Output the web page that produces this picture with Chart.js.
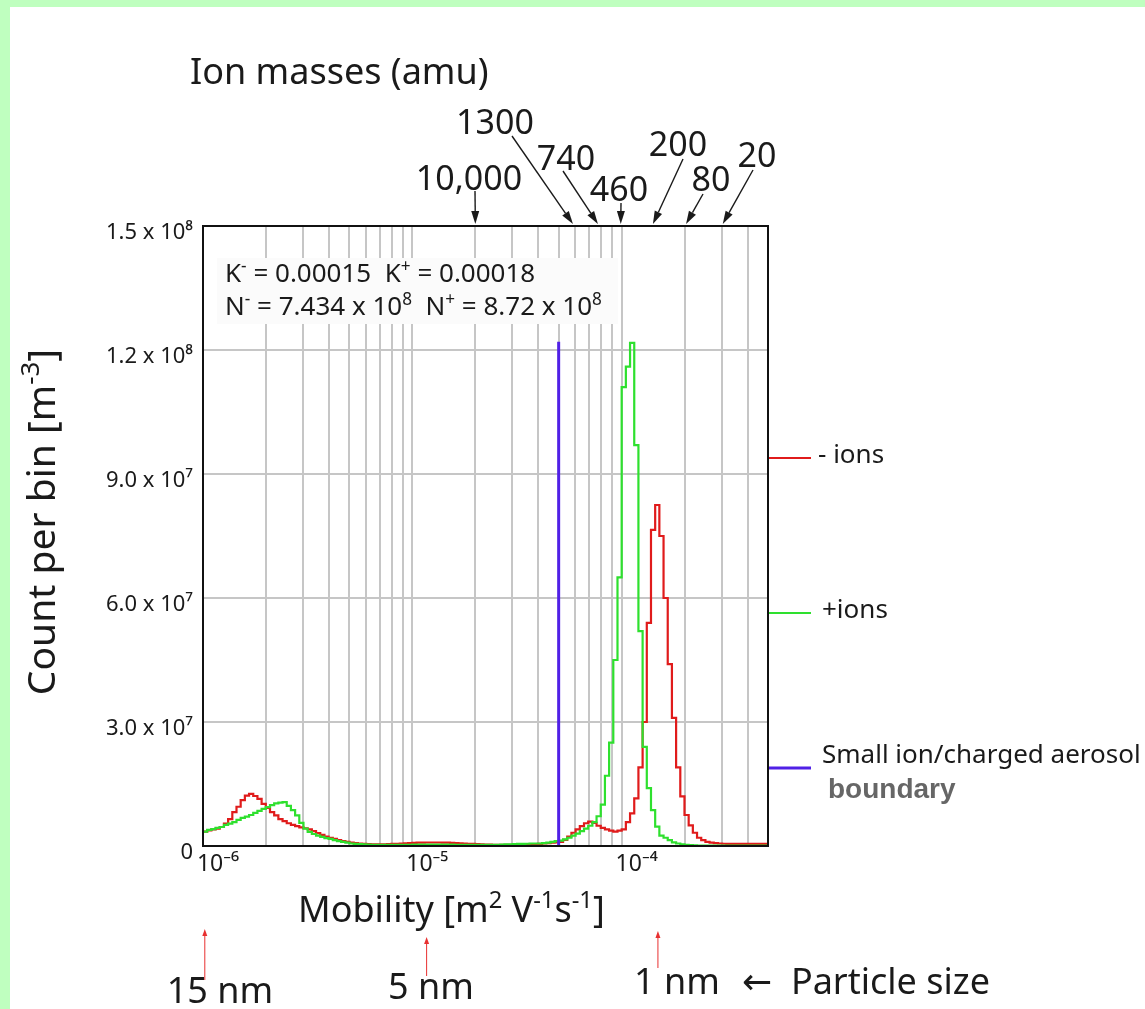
<!DOCTYPE html>
<html lang="en">
<head>
<meta charset="UTF-8">
<title>Ion mobility spectrum</title>
<style>
  html, body { margin: 0; padding: 0; background: #bfffbf; overflow: hidden; }
  #paper { position: absolute; left: 10px; top: 7px; right: 0; bottom: 0; background: #fff; }
  #chart { position: absolute; left: 0; top: 0; }
</style>
</head>
<body>
<div id="paper"></div>
<canvas id="chart" width="1145" height="1009"></canvas>

<script src="https://cdn.jsdelivr.net/npm/chart.js"></script>
<script>
// histogram bins, equal width in log10(mobility)
const BIN_LOG_START = -6.0;
const BIN_LOG_WIDTH = 0.02;

// counts per bin, in millions
const negIonsM = [
  3.5, 3.75, 4.0, 4.2, 4.6, 5.4, 6.5, 8.2, 9.5, 11.1,
  12.2, 12.6, 12.1, 11.4, 10.2, 9.2, 8.2, 7.4, 6.5, 6.0,
  5.5, 5.1, 4.8, 4.5, 4.3, 4.0, 3.6, 3.1, 2.7, 2.3,
  2.0, 1.7, 1.4, 1.2, 1.0, 0.85, 0.7, 0.6, 0.5, 0.45,
  0.4, 0.4, 0.4, 0.4, 0.45, 0.5, 0.55, 0.6, 0.65, 0.7,
  0.75, 0.8, 0.8, 0.85, 0.85, 0.85, 0.85, 0.8, 0.8, 0.75,
  0.7, 0.65, 0.6, 0.55, 0.5, 0.45, 0.4, 0.35, 0.35, 0.3,
  0.3, 0.3, 0.3, 0.3, 0.3, 0.35, 0.35, 0.4, 0.4, 0.45,
  0.5, 0.6, 0.7, 0.8, 0.9, 1.0, 1.5, 2.3, 3.2, 4.0,
  4.8, 5.5, 5.9, 5.6, 4.9, 4.4, 4.0, 3.7, 3.5, 3.7,
  4.0, 5.8, 7.9, 11.5, 19.0, 30.0, 54.0, 76.5, 82.5, 75.0,
  60.0, 44.0, 31.0, 19.0, 12.0, 7.5, 5.0, 3.2, 2.0, 1.4,
  1.0, 0.8, 0.7, 0.6, 0.55, 0.5, 0.5, 0.5, 0.5, 0.5,
  0.5, 0.5, 0.5, 0.5, 0.5
];
const posIonsM = [
  3.5, 3.9, 4.1, 4.4, 4.6, 5.1, 5.4, 5.8, 6.3, 6.8,
  7.1, 7.5, 8.0, 8.5, 9.0, 9.4, 9.9, 10.3, 10.5, 10.6,
  9.7, 8.7, 7.4, 5.6, 4.2, 3.4, 2.9, 2.5, 2.2, 1.9,
  1.7, 1.4, 1.2, 1.0, 0.8, 0.6, 0.5, 0.45, 0.4, 0.35,
  0.3, 0.3, 0.3, 0.3, 0.3, 0.3, 0.3, 0.3, 0.3, 0.3,
  0.35, 0.35, 0.35, 0.35, 0.35, 0.35, 0.35, 0.35, 0.35, 0.35,
  0.3, 0.3, 0.3, 0.3, 0.3, 0.3, 0.3, 0.3, 0.3, 0.3,
  0.3, 0.35, 0.4, 0.4, 0.45, 0.5, 0.5, 0.55, 0.6, 0.6,
  0.6, 0.7, 0.8, 1.0, 1.2, 1.3, 1.6, 2.0, 2.5, 3.0,
  3.6, 4.2, 4.9, 5.8, 7.2, 10.0, 17.0, 25.0, 45.0, 65.0,
  111.0, 116.0, 121.7, 97.0, 52.0, 24.0, 14.0, 8.7, 4.7, 2.5,
  2.0, 1.4, 0.9, 0.6, 0.4, 0.3, 0.2, 0.15, 0.1, 0.1,
  0.1, 0.1, 0.1, 0.1, 0.1, 0.1, 0.1, 0.1, 0.1, 0.1,
  0.1, 0.1, 0.1, 0.1, 0.1
];

const boundaryMobility = 5e-5;
const boundaryHeight = 1.22e8;

const yTickValues = [0, 3e7, 6e7, 9e7, 1.2e8, 1.5e8];
const yTickLabels = ['0', '3.0 x 10⁷', '6.0 x 10⁷', '9.0 x 10⁷', '1.2 x 10⁸', '1.5 x 10⁸'];
const xMajorTicks = [1e-6, 1e-5, 1e-4];
const xMajorLabels = ['10⁻⁶', '10⁻⁵', '10⁻⁴'];

const massLabels = ['10,000', '1300', '740', '460', '200', '80', '20'];
const massMobility = [2.0e-5, 5.85e-5, 7.7e-5, 9.9e-5, 1.41e-4, 2.03e-4, 3.04e-4];
const sizeLabels = ['15 nm', '5 nm', '1 nm'];
const sizeMobility = [1.02e-6, 1.17e-5, 1.49e-4];
// ^{..} marks a superscript
const statsLines = ['K^{-} = 0.00015  K^{+} = 0.00018', 'N^{-} = 7.434 x 10^{8}  N^{+} = 8.72 x 10^{8}'];
const xTitle = 'Mobility [m^{2} V^{-1}s^{-1}]';
const yTitle = 'Count per bin [m^{-3}]';

const FONT = '"Noto Sans", "DejaVu Sans", sans-serif';
const RED = '#e01b1b';
const GREEN = '#2ee02e';
const BLUE = '#5020e6';

function toSteps(valuesM) {
    const pts = valuesM.map((v, i) => ({ x: Math.pow(10, BIN_LOG_START + i * BIN_LOG_WIDTH), y: v * 1e6 }));
    // closing edge of last bin
    pts.push({ x: Math.pow(10, BIN_LOG_START + valuesM.length * BIN_LOG_WIDTH), y: valuesM[valuesM.length - 1] * 1e6 });
    return pts;
}

// grid at 1..9 x 10^n inside the axis range
const xGridValues = [];
[-6, -5, -4].forEach(e => {
    for (let k = 1; k <= 9; k++) {
        const v = k * Math.pow(10, e);
        if (v < 5e-4) xGridValues.push(v);
    }
});

function arrow(ctx, x1, y1, x2, y2, head, half, color, width) {
    const ang = Math.atan2(y2 - y1, x2 - x1);
    const bx = x2 - head * Math.cos(ang), by = y2 - head * Math.sin(ang);
    ctx.strokeStyle = color;
    ctx.fillStyle = color;
    ctx.lineWidth = width;
    ctx.beginPath();
    ctx.moveTo(x1, y1);
    ctx.lineTo(bx, by);
    ctx.stroke();
    ctx.beginPath();
    ctx.moveTo(x2, y2);
    ctx.lineTo(bx + half * Math.sin(ang), by - half * Math.cos(ang));
    ctx.lineTo(bx - half * Math.sin(ang), by + half * Math.cos(ang));
    ctx.closePath();
    ctx.fill();
}

// text with ^{..} superscripts, drawn on the alphabetic baseline
function richText(ctx, text, x, y, size, align) {
    const parts = text.split(/(\^\{[^}]*\})/).filter(p => p.length).map(p =>
        p.startsWith('^{') ? { t: p.slice(2, -1), sup: true } : { t: p, sup: false });
    let total = 0;
    parts.forEach(p => {
        ctx.font = (p.sup ? size * 0.66 : size) + 'px ' + FONT;
        p.w = ctx.measureText(p.t).width;
        total += p.w;
    });
    let cx = align === 'center' ? x - total / 2 : x;
    ctx.textAlign = 'left';
    ctx.textBaseline = 'alphabetic';
    parts.forEach(p => {
        ctx.font = (p.sup ? size * 0.66 : size) + 'px ' + FONT;
        ctx.fillText(p.t, cx, p.sup ? y - size * 0.4 : y);
        cx += p.w;
    });
}

// label placement for the mass arrows: label centre x, baseline y, arrow tail
const massLayout = [
    [469, 190, 475, 191], [495, 134, 512, 136], [566, 170, 563, 171], [619, 201, 621, 203],
    [678, 156, 683, 159], [711, 191, 703, 194], [757, 167, 753, 170]
];
// particle size marks: arrow top, arrow bottom, label centre x, label baseline
const sizeLayout = [[929, 980, 220, 1003], [937, 976, 431, 999], [931, 968, 677, 994]];

const annotations = {
    id: 'annotations',
    beforeDatasetsDraw(chart) {
        const ctx = chart.ctx;
        ctx.save();
        ctx.fillStyle = '#fbfbfb';
        ctx.fillRect(217, 258, 401, 66);
        ctx.fillStyle = '#1a1a1a';
        richText(ctx, statsLines[0], 225, 282, 26, 'left');
        richText(ctx, statsLines[1], 225, 315, 26, 'left');
        ctx.restore();
    },
    afterDraw(chart) {
        const { ctx, chartArea: a } = chart;
        const x = chart.scales.x;
        ctx.save();

        ctx.strokeStyle = '#111';
        ctx.lineWidth = 2;
        ctx.strokeRect(a.left, a.top, a.right - a.left, a.bottom - a.top);

        ctx.fillStyle = '#1a1a1a';
        ctx.textBaseline = 'alphabetic';
        ctx.font = '36px ' + FONT;
        ctx.textAlign = 'left';
        ctx.fillText('Ion masses (amu)', 190, 84);

        // ion masses along the top axis
        ctx.font = '34px ' + FONT;
        ctx.textAlign = 'center';
        massLabels.forEach((lbl, i) => {
            const [lx, ly, tx, ty] = massLayout[i];
            ctx.fillStyle = '#1a1a1a';
            ctx.fillText(lbl, lx, ly);
            arrow(ctx, tx, ty, x.getPixelForValue(massMobility[i]), a.top - 2, 13, 4, '#1a1a1a', 1.4);
        });

        // axis titles
        ctx.fillStyle = '#1a1a1a';
        richText(ctx, xTitle, 298, 922, 36, 'left');
        ctx.save();
        ctx.translate(55, 522);
        ctx.rotate(-Math.PI / 2);
        richText(ctx, yTitle, 0, 0, 39, 'center');
        ctx.restore();

        // legend on the right
        const ds = chart.data.datasets;
        const legendRows = [
            [ds[2], 458, 2, '- ions', 818, 463],
            [ds[1], 613, 2, '+ions', 822, 618],
            [ds[0], 768, 3, 'Small ion/charged aerosol', 822, 763]
        ];
        ctx.font = '26px ' + FONT;
        ctx.textAlign = 'left';
        ctx.textBaseline = 'alphabetic';
        legendRows.forEach(([d, ly, w, txt, tx, tb]) => {
            ctx.strokeStyle = d.borderColor;
            ctx.lineWidth = w;
            ctx.beginPath();
            ctx.moveTo(769, ly);
            ctx.lineTo(811, ly);
            ctx.stroke();
            ctx.fillStyle = '#1a1a1a';
            ctx.fillText(txt, tx, tb);
        });
        ctx.fillStyle = '#666';
        ctx.font = 'bold 28px "Liberation Sans", Arial, sans-serif';
        ctx.fillText('boundary', 828, 798);

        // particle size marks
        ctx.font = '36px ' + FONT;
        ctx.textAlign = 'center';
        sizeLabels.forEach((lbl, i) => {
            const [top, bottom, lx, lb] = sizeLayout[i];
            const px = x.getPixelForValue(sizeMobility[i]);
            arrow(ctx, px, bottom, px, top, 7, 2.5, '#e83030', 1);
            ctx.fillStyle = '#1a1a1a';
            ctx.fillText(lbl, lx, lb);
        });
        ctx.textAlign = 'left';
        ctx.fillText('←  Particle size', 742, 994);

        ctx.restore();
    }
};

new Chart(document.getElementById('chart'), {
    type: 'line',
    data: {
        datasets: [{
            label: 'Small ion/charged aerosol boundary',
            data: [{ x: boundaryMobility, y: 0 }, { x: boundaryMobility, y: boundaryHeight }],
            borderColor: BLUE,
            borderWidth: 3,
            pointRadius: 0,
            fill: false
        }, {
            label: '+ions',
            data: toSteps(posIonsM),
            borderColor: GREEN,
            borderWidth: 2.2,
            pointRadius: 0,
            stepped: true,
            fill: false
        }, {
            label: '- ions',
            data: toSteps(negIonsM),
            borderColor: RED,
            borderWidth: 2.2,
            pointRadius: 0,
            stepped: true,
            fill: false
        }]
    },
    options: {
        responsive: false,
        animation: false,
        events: [],
        layout: { padding: { left: 0, top: 226, right: 377, bottom: 0 } },
        plugins: {
            legend: { display: false },
            tooltip: { enabled: false }
        },
        scales: {
            x: {
                type: 'logarithmic',
                min: 1e-6,
                max: 5e-4,
                afterBuildTicks: s => { s.ticks = xGridValues.map(v => ({ value: v })); },
                afterFit: s => { s.height = 1009 - 846; },
                grid: { color: '#c6c6c6', lineWidth: 2, drawTicks: false },
                border: { color: '#111', width: 2 },
                ticks: {
                    autoSkip: false,
                    maxRotation: 0,
                    padding: 5,
                    labelOffset: 15,
                    color: '#1a1a1a',
                    font: { family: FONT, size: 23 },
                    callback: v => {
                        const k = xMajorTicks.findIndex(m => Math.abs(m - v) / m < 1e-6);
                        return k < 0 ? '' : xMajorLabels[k];
                    }
                }
            },
            y: {
                min: 0,
                max: 1.5e8,
                afterBuildTicks: s => { s.ticks = yTickValues.map(v => ({ value: v })); },
                afterFit: s => { s.width = 203; },
                grid: { color: '#c6c6c6', lineWidth: 2, drawTicks: false },
                border: { color: '#111', width: 2 },
                ticks: {
                    padding: 10,
                    labelOffset: 7,
                    color: '#1a1a1a',
                    font: { family: FONT, size: 22 },
                    callback: (v, i) => yTickLabels[i]
                }
            }
        }
    },
    plugins: [annotations]
});
</script>
</body>
</html>
